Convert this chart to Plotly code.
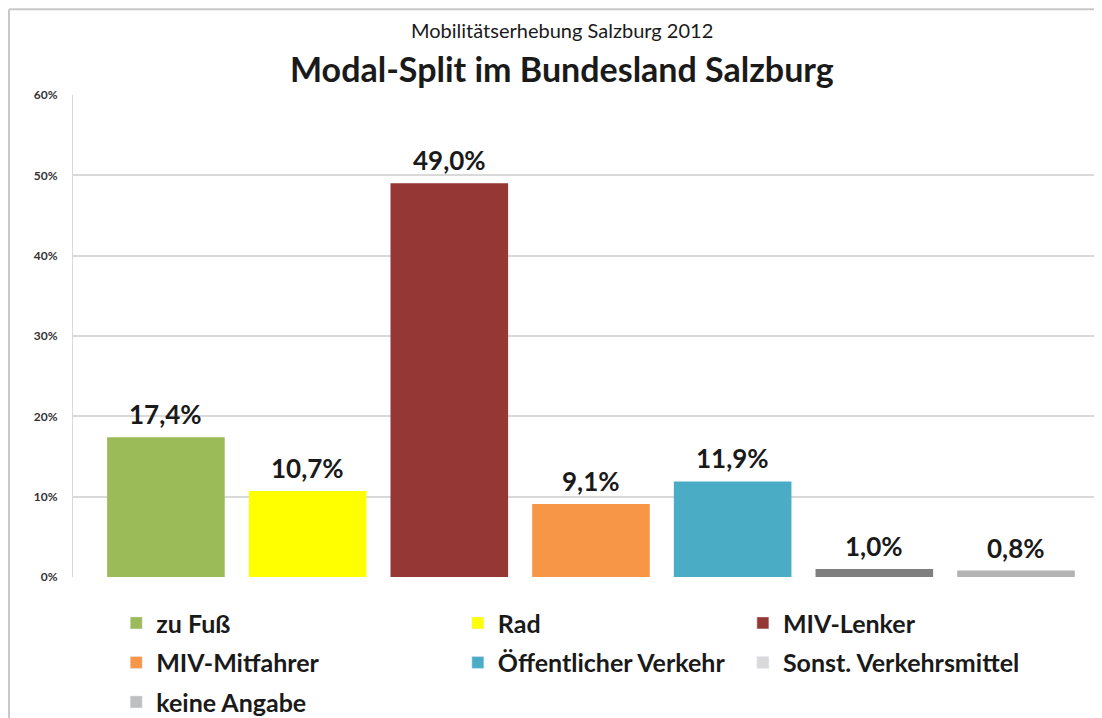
import plotly.graph_objects as go

categories = ["zu Fuß", "Rad", "MIV-Lenker", "MIV-Mitfahrer", "Öffentlicher Verkehr",
              "Sonst. Verkehrsmittel", "keine Angabe"]
values = [17.4, 10.7, 49.0, 9.1, 11.9, 1.0, 0.8]
bar_colors = ["#9bbb59", "#ffff00", "#953735", "#f79646", "#4bacc6", "#7f7f7f", "#b3b3b3"]
legend_colors = ["#9bbb59", "#ffff00", "#953735", "#f79646", "#4bacc6", "#d9d9d9", "#bfbfbf"]
legend_column = ["legend", "legend2", "legend3", "legend", "legend2", "legend3", "legend"]
tick_vals = [0, 10, 20, 30, 40, 50, 60]
tick_text = ["0%", "10%", "20%", "30%", "40%", "50%", "60%"]

FONT = "Lato"
TXT = "#1a1a1a"

labels = [f"{v:.1f}%".replace(".", ",") for v in values]

fig = go.Figure()
fig.add_trace(go.Bar(
    x=categories, y=values, marker=dict(color=bar_colors, line=dict(width=0)),
    width=0.83, showlegend=False, hoverinfo="skip",
))
for name, col, lg in zip(categories, legend_colors, legend_column):
    fig.add_trace(go.Bar(x=[None], y=[None], name=name, marker_color=col,
                         legend=lg, legendgroup=name, showlegend=True))

annotations = [
    dict(x=c, y=v, text=f"<b>{t}</b>", xref="x", yref="y", showarrow=False,
         xanchor="center", yanchor="bottom", yshift=5,
         font=dict(family=FONT, size=26, color=TXT))
    for c, v, t in zip(categories, values, labels)
]
annotations += [
    dict(text="Mobilitätserhebung Salzburg 2012", xref="paper", yref="paper",
         x=0.475, y=1.135, xanchor="center", yanchor="middle", showarrow=False,
         font=dict(family=FONT, size=20, color=TXT)),
    dict(text="<b>Modal-Split im Bundesland Salzburg</b>", xref="paper", yref="paper",
         x=0.475, y=1.056, xanchor="center", yanchor="middle", showarrow=False,
         font=dict(family=FONT, size=34, color=TXT)),
]

leg_common = dict(orientation="v", yanchor="top", y=-0.048, tracegroupgap=4,
                  font=dict(family=FONT, size=25, color=TXT, weight="bold"),
                  bgcolor="rgba(0,0,0,0)", itemclick=False, itemdoubleclick=False)

fig.update_layout(
    width=1102, height=718,
    margin=dict(l=65, r=8, t=87, b=149, autoexpand=False),
    paper_bgcolor="white", plot_bgcolor="white",
    barmode="overlay",
    xaxis=dict(type="category", categoryorder="array", categoryarray=categories,
               range=[-0.656, 6.607], showticklabels=False, showgrid=False,
               zeroline=False, showline=False, ticks=""),
    yaxis=dict(range=[0, 60], tickvals=tick_vals, ticktext=tick_text,
               showgrid=True, gridcolor="#d9d9d9", gridwidth=1.5,
               zeroline=False, showline=True, linecolor="#d9d9d9", linewidth=1,
               ticks="", ticklabelstandoff=12,
               tickfont=dict(family=FONT, size=12, color="#333333", weight="bold")),
    legend=dict(x=0.042, **leg_common),
    legend2=dict(x=0.374, **leg_common),
    legend3=dict(x=0.651, **leg_common),
    annotations=annotations,
    shapes=[
        dict(type="line", xref="paper", yref="paper", x0=-0.0622, x1=-0.0622,
             y0=-0.35, y1=1.178, line=dict(color="#c8c8c8", width=2)),
        dict(type="line", xref="paper", yref="paper", x0=-0.0622, x1=1.01,
             y0=1.178, y1=1.178, line=dict(color="#c8c8c8", width=2)),
    ],
)

fig.write_html("out.html")
